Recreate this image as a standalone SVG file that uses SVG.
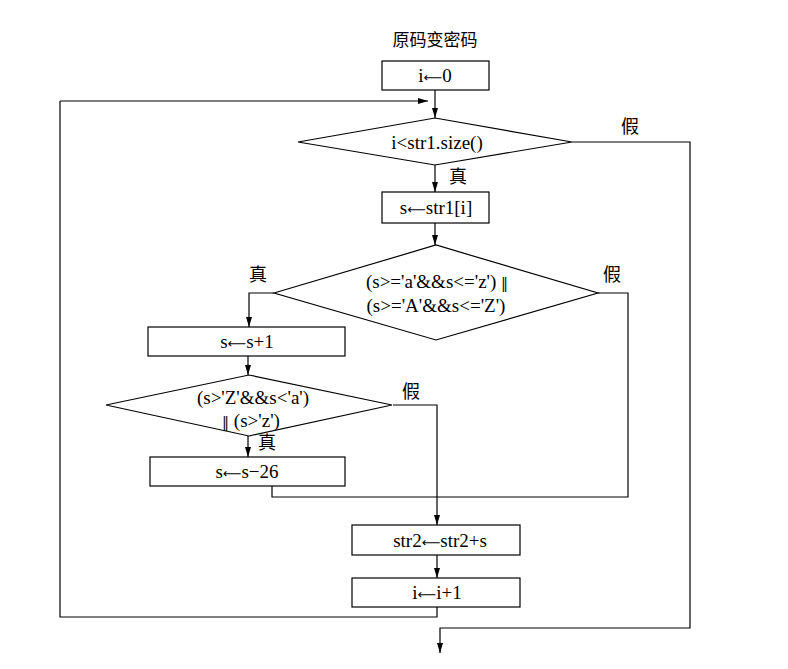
<svg xmlns="http://www.w3.org/2000/svg" width="788" height="669" viewBox="0 0 788 669">
<style>
.s{fill:none;stroke:#000;stroke-width:1.2}
.t{font-family:"Liberation Serif","Noto Sans CJK SC",serif;font-size:19px;fill:#000;text-anchor:middle}
.c{font-family:"Noto Sans CJK SC",sans-serif;font-size:18px;fill:#000;text-anchor:middle}
.ar{font-family:"DejaVu Sans",sans-serif;font-size:13px}
.dv{font-family:"DejaVu Serif",serif;font-size:14px}
</style>
<defs>
<marker id="a" markerUnits="userSpaceOnUse" markerWidth="10" markerHeight="6" refX="10" refY="3" orient="auto">
<path d="M0,0 L10,3 L0,6 Z" fill="#000"/>
</marker>
</defs>
<rect width="788" height="669" fill="#fff"/>
<text class="c" x="435" y="46" style="font-size:17px">原码变密码</text>
<g id="connectors" class="s">
<path d="M435,90 V118" marker-end="url(#a)"/>
<path d="M60,101 H428" marker-end="url(#a)"/>
<path d="M435,165 V192" marker-end="url(#a)"/>
<path d="M435,223 V245" marker-end="url(#a)"/>
<path d="M274,293 H249 V327" marker-end="url(#a)"/>
<path d="M248,356 V375" marker-end="url(#a)"/>
<path d="M248,436 V457" marker-end="url(#a)"/>
<path d="M393,405 H437 V525" marker-end="url(#a)"/>
<path d="M598,293 H628 V497 H272 V486"/>
<path d="M437,555 V578" marker-end="url(#a)"/>
<path d="M437,607 V617 H60 V101"/>
<path d="M572,142 H690 V628 H440 V653" marker-end="url(#a)"/>
</g>
<g id="n1"><rect class="s" x="382" y="61" width="107" height="29"/><text class="t" x="435" y="82">i<tspan class="ar">⟵</tspan>0</text></g>
<g id="n2"><polygon class="s" points="298,142 435,118 572,142 435,165"/><text class="t" x="437" y="148.5">i&lt;str1.size()</text></g>
<g id="n3"><rect class="s" x="382" y="192" width="107" height="31"/><text class="t" x="436" y="214">s<tspan class="ar">⟵</tspan>str1[i]</text></g>
<g id="n4"><polygon class="s" points="274,293 436,245 598,293 436,340"/><text class="t" x="437" y="287.5">(s&gt;='a'&amp;&amp;s&lt;='z') <tspan class="dv">‖</tspan></text><text class="t" x="436" y="311.5">(s&gt;='A'&amp;&amp;s&lt;='Z')</text></g>
<g id="n5"><rect class="s" x="148" y="327" width="197" height="29"/><text class="t" x="247" y="348">s<tspan class="ar">⟵</tspan>s+1</text></g>
<g id="n6"><polygon class="s" points="106,405 249,375 392,405 249,436"/><text class="t" x="253" y="403.5">(s&gt;'Z'&amp;&amp;s&lt;'a')</text><text class="t" x="251" y="426.5"><tspan class="dv">‖</tspan> (s&gt;'z')</text></g>
<g id="n7"><rect class="s" x="150" y="457" width="195" height="29"/><text class="t" x="247" y="477.5">s<tspan class="ar">⟵</tspan>s−26</text></g>
<g id="n8"><rect class="s" x="352" y="525" width="168" height="30"/><text class="t" x="440" y="546.5">str2<tspan class="ar">⟵</tspan>str2+s</text></g>
<g id="n9"><rect class="s" x="352" y="578" width="168" height="29"/><text class="t" x="437" y="599">i<tspan class="ar">⟵</tspan>i+1</text></g>
<g id="labels">
<text class="c" x="630" y="133">假</text>
<text class="c" x="458" y="183">真</text>
<text class="c" x="258" y="281">真</text>
<text class="c" x="612" y="281">假</text>
<text class="c" x="411" y="398">假</text>
<text class="c" x="267" y="449">真</text>
</g>
</svg>
